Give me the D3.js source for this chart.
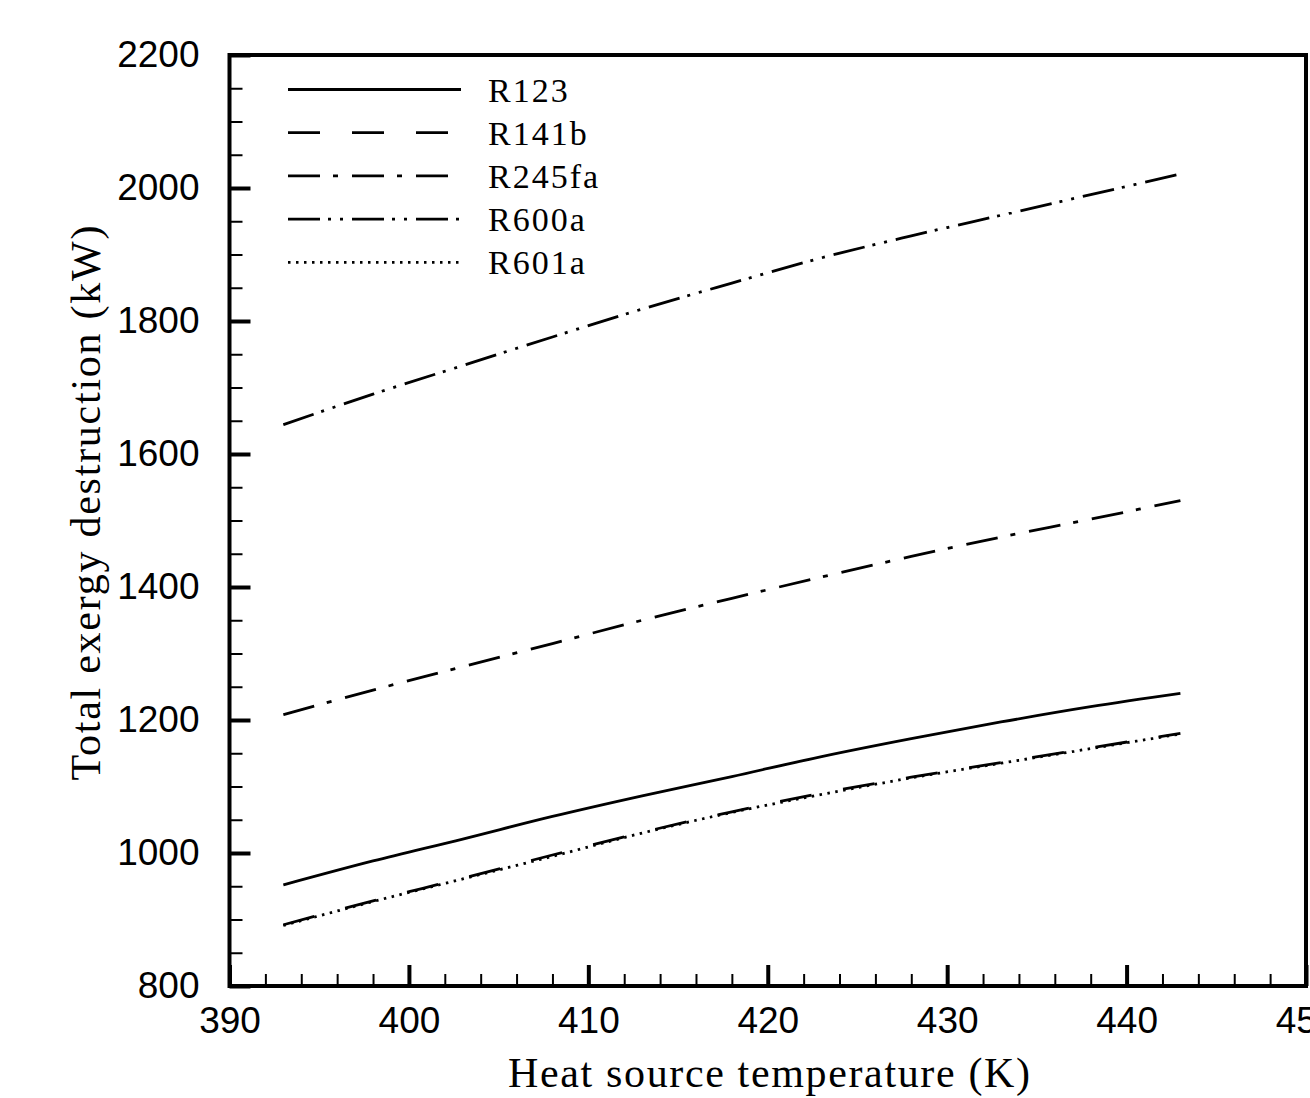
<!DOCTYPE html>
<html>
<head>
<meta charset="utf-8">
<script src="https://cdn.jsdelivr.net/npm/d3@7"></script>
<style>
  html, body { margin: 0; padding: 0; background: #fff; }
  svg { display: block; }
</style>
</head>
<body>
<svg id="chart" width="1310" height="1098"></svg>
<script>
// ---- data ----
const temps  = [393, 398, 403, 408, 413, 418, 423, 428, 433, 438, 443];
const r123   = [952, 988, 1021, 1055, 1086, 1115, 1145, 1172, 1197, 1220, 1240];
const r141b  = [892, 928, 962, 997, 1031, 1062, 1090, 1114, 1136, 1158, 1180];
const r245fa = [1208, 1245, 1280, 1315, 1350, 1383, 1415, 1446, 1475, 1502, 1530];
const r600a  = [1644, 1690, 1733, 1776, 1818, 1857, 1895, 1928, 1959, 1990, 2021];
const r601a  = [891, 927, 961, 995, 1030, 1061, 1088, 1113, 1135, 1157, 1179];
const seriesNames = ["R123", "R141b", "R245fa", "R600a", "R601a"];
const seriesValues = [r123, r141b, r245fa, r600a, r601a];
const dashes = ["none", "32,32", "32,13,5,14", "32,8,3,9,3,9", "2.5,5.5"];
const xTicks = [390, 400, 410, 420, 430, 440, 450];
const yTicks = [800, 1000, 1200, 1400, 1600, 1800, 2000, 2200];
const xTitle = "Heat source temperature (K)";
const yTitle = "Total exergy destruction (kW)";

// ---- layout ----
const L = 229.5, R = 1306, T = 55, B = 986;
const svg = d3.select("#chart");
const x = d3.scaleLinear().domain([390, 450]).range([L, R]);
const y = d3.scaleLinear().domain([800, 2200]).range([B, T]);

const sans = "'Liberation Sans', Arial, sans-serif";
const serif = "'Liberation Serif', 'Times New Roman', serif";

// minor ticks
const xMinor = d3.range(390, 450.1, 2).filter(v => v % 10 !== 0);
const yMinor = d3.range(800, 2200.1, 50).filter(v => v % 200 !== 0);

svg.append("g").attr("transform", `translate(0,${B})`)
  .call(d3.axisBottom(x).tickValues(xMinor).tickSize(-12).tickFormat(""))
  .call(g => g.select(".domain").remove())
  .call(g => g.selectAll("line").attr("stroke", "#000").attr("stroke-width", 2));

svg.append("g").attr("transform", `translate(${L},0)`)
  .call(d3.axisLeft(y).tickValues(yMinor).tickSize(-13).tickFormat(""))
  .call(g => g.select(".domain").remove())
  .call(g => g.selectAll("line").attr("stroke", "#000").attr("stroke-width", 2));

// major ticks + labels
svg.append("g").attr("transform", `translate(0,${B})`)
  .call(d3.axisBottom(x).tickValues(xTicks).tickSize(-21).tickPadding(21).tickFormat(d3.format("d")))
  .call(g => g.select(".domain").remove())
  .call(g => g.selectAll("line").attr("stroke", "#000").attr("stroke-width", 4))
  .call(g => g.selectAll("text").attr("fill", "#000").style("font-family", sans).style("font-size", "37px"));

svg.append("g").attr("transform", `translate(${L},0)`)
  .call(d3.axisLeft(y).tickValues(yTicks).tickSize(-21).tickPadding(30).tickFormat(d3.format("d")))
  .call(g => g.select(".domain").remove())
  .call(g => g.selectAll("line").attr("stroke", "#000").attr("stroke-width", 4))
  .call(g => g.selectAll("text").attr("fill", "#000").style("font-family", sans).style("font-size", "37px"));

// frame
svg.append("rect")
  .attr("x", L).attr("y", T).attr("width", R - L).attr("height", B - T)
  .attr("fill", "none").attr("stroke", "#000").attr("stroke-width", 4);

// lines
const line = d3.line()
  .x(d => x(d[0])).y(d => y(d[1]))
  .curve(d3.curveMonotoneX);

seriesValues.forEach((vals, i) => {
  svg.append("path")
    .datum(temps.map((t, j) => [t, vals[j]]))
    .attr("d", line)
    .attr("fill", "none")
    .attr("stroke", "#000")
    .attr("stroke-width", 2.8)
    .attr("stroke-dasharray", dashes[i]);
});

// legend
const legY0 = 89.5, legDy = 43.2;
seriesNames.forEach((name, i) => {
  const ly = legY0 + i * legDy;
  svg.append("line")
    .attr("x1", 288).attr("x2", 461).attr("y1", ly).attr("y2", ly)
    .attr("stroke", "#000").attr("stroke-width", 2.8)
    .attr("stroke-dasharray", dashes[i]);
  svg.append("text")
    .attr("x", 488).attr("y", ly + 12)
    .style("font-family", serif).style("font-size", "34px")
    .style("letter-spacing", "2px")
    .attr("fill", "#000")
    .text(name);
});

// axis titles
svg.append("text")
  .attr("x", 769).attr("y", 1087)
  .attr("text-anchor", "middle")
  .style("font-family", serif).style("font-size", "42px")
  .attr("textLength", 522).attr("lengthAdjust", "spacing")
  .attr("fill", "#000")
  .text(xTitle);

svg.append("text")
  .attr("transform", "translate(100,503) rotate(-90)")
  .attr("text-anchor", "middle")
  .style("font-family", serif).style("font-size", "42px")
  .attr("textLength", 555).attr("lengthAdjust", "spacing")
  .attr("fill", "#000")
  .text(yTitle);
</script>
</body>
</html>
